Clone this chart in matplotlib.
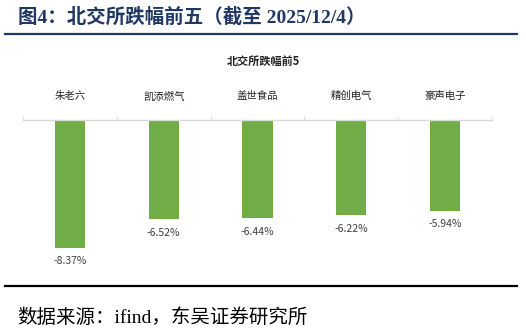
import matplotlib
matplotlib.use('Agg')
import matplotlib.pyplot as plt
from matplotlib.lines import Line2D

plt.rcParams['font.family'] = ['Noto Sans CJK SC', 'DejaVu Sans']
serif_mix = ['Liberation Serif', 'Noto Sans CJK SC']

# 数据
stocks = ['朱老六', '凯添燃气', '盖世食品', '精创电气', '豪声电子']
changes = [-8.37, -6.52, -6.44, -6.22, -5.94]

W, H = 526, 333
fig = plt.figure(figsize=(W / 100, H / 100), dpi=100)

# 图表区域（像素换算）
ax = fig.add_axes([23 / W, 1 - 270 / H, (492 - 23) / W, 150 / H])
x = list(range(len(stocks)))
ax.bar(x, changes, width=0.32, color='#70AD47', zorder=2)
ax.set_xlim(-0.5, len(stocks) - 0.5)
ax.set_ylim(-9.84, 0)

for s in ['left', 'right', 'bottom']:
    ax.spines[s].set_visible(False)
ax.spines['top'].set_color('#D9D9D9')
ax.spines['top'].set_linewidth(1.0)
ax.set_yticks([])
ax.set_xticks([])
ax.set_xticks([i - 0.5 for i in range(len(stocks) + 1)], minor=True)
ax.tick_params(axis='x', which='minor', top=True, bottom=False, direction='out',
               length=3, color='#D9D9D9', labeltop=False, labelbottom=False)

# 类别标签在轴线上方
for i, name in enumerate(stocks):
    ax.annotate(name, (i, 0), xytext=(0, 17), textcoords='offset points',
                ha='center', va='center', fontsize=7.5, color='#262626')

# 数值标签
for i, v in enumerate(changes):
    ax.annotate(f'{v:.2f}%', (i, v), xytext=(0, -10), textcoords='offset points',
                ha='center', va='center', fontsize=7.5, color='#404040')

# 图表标题
fig.text(263 / W, 1 - 61 / H, '北交所跌幅前5', ha='center', va='center',
         fontsize=8, fontweight='bold', color='#262626')

# 大标题
fig.text(18 / W, 1 - 17 / H, '图4：北交所跌幅前五（截至 2025/12/4）', ha='left', va='center',
         fontsize=14, fontweight='bold', color='#1F3864', family=serif_mix)
fig.add_artist(Line2D([5 / W, 517 / W], [1 - 34 / H, 1 - 34 / H], color='#1F3864', linewidth=1.6))

# 底线与来源
fig.add_artist(Line2D([5 / W, 517 / W], [1 - 286 / H, 1 - 286 / H], color='black', linewidth=1.6))
fig.text(17 / W, 1 - 318 / H, '数据来源：ifind，东吴证券研究所', ha='left', va='center',
         fontsize=14, color='black', family=serif_mix)

fig.savefig('out.png', dpi=100)
